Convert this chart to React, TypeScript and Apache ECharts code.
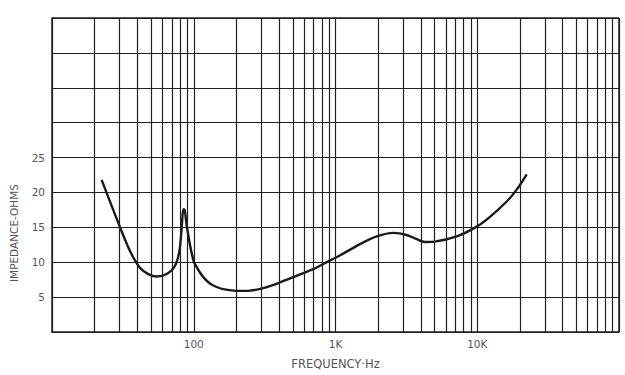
import React, { useEffect, useRef } from "react";
import * as echarts from "echarts";

const freqHz = [22.4, 30.2, 35.5, 41.7, 47.8, 54.8, 64.4, 73.8, 79.2, 82.2, 84.5, 86.3, 89, 94.1, 100, 105, 110, 118, 130, 145, 165, 200, 240, 309, 405, 530, 697, 820, 1080, 1489, 1953, 2561, 3177, 3737, 4280, 5000, 7161, 9910, 12300, 16140, 18980, 22330];
const impedanceOhms = [21.8, 15.0, 11.6, 9.2, 8.3, 7.95, 8.3, 9.5, 11.6, 14.9, 17.6, 17.5, 15.4, 12.5, 10.1, 9.3, 8.6, 7.75, 6.95, 6.45, 6.1, 5.9, 5.9, 6.3, 7.1, 8.05, 9.0, 9.75, 11.0, 12.6, 13.7, 14.2, 13.9, 13.3, 12.9, 12.95, 13.7, 15.1, 16.5, 18.7, 20.4, 22.6];
const minorFreqs = [20, 30, 40, 50, 60, 70, 80, 90, 200, 300, 400, 500, 600, 700, 800, 900, 2000, 3000, 4000, 5000, 6000, 7000, 8000, 9000, 20000, 30000, 40000, 50000, 60000, 70000, 80000, 90000];
const xTickLabels: Record<number, string> = { 100: "100", 1000: "1K", 10000: "10K" };
const yLabelled = [5, 10, 15, 20, 25];

export default function App() {
  const ref = useRef<HTMLDivElement>(null);
  useEffect(() => {
    if (!ref.current) return;
    const chart = echarts.init(ref.current, undefined, { renderer: "svg" });
    const font = "DejaVu Sans";
    chart.setOption({
      animation: false,
      backgroundColor: "#ffffff",
      grid: { left: 52, right: 6, top: 18, bottom: 40 },
      xAxis: {
        type: "log",
        logBase: 10,
        min: 10,
        max: 100000,
        name: "FREQUENCY·Hz",
        nameLocation: "middle",
        nameGap: 26,
        nameTextStyle: { color: "#555", fontSize: 11.5, fontFamily: font },
        axisLine: { show: true, lineStyle: { color: "#222", width: 1.5 } },
        axisTick: { show: false },
        axisLabel: {
          color: "#555",
          fontSize: 10.5,
          fontFamily: font,
          margin: 6,
          formatter: (v: number) => xTickLabels[Math.round(v)] || "",
        },
        splitLine: { show: true, lineStyle: { color: "#222", width: 1.2 } },
      },
      yAxis: {
        type: "value",
        min: 0,
        max: 45,
        interval: 5,
        axisLine: { show: true, lineStyle: { color: "#222", width: 1.5 } },
        axisTick: { show: false },
        axisLabel: {
          color: "#555",
          fontSize: 10.5,
          fontFamily: font,
          margin: 7,
          formatter: (v: number) => (yLabelled.includes(v) ? String(v) : ""),
        },
        splitLine: { show: true, lineStyle: { color: "#222", width: 1.2 } },
      },
      graphic: [
        {
          type: "text",
          x: 14,
          y: 233,
          rotation: Math.PI / 2,
          style: {
            text: "IMPEDANCE-OHMS",
            fill: "#555",
            font: `10.5px "${font}"`,
            align: "center",
            verticalAlign: "middle",
          },
        },
      ],
      series: [
        {
          type: "line",
          data: freqHz.map((f, i) => [f, impedanceOhms[i]]),
          smooth: 0.3,
          symbol: "none",
          lineStyle: { color: "#1a1a1a", width: 2.4 },
          markLine: {
            silent: true,
            symbol: "none",
            label: { show: false },
            lineStyle: { color: "#222", width: 1.2, type: "solid" },
            data: minorFreqs.map((f) => ({ xAxis: f })),
          },
        },
        {
          type: "line",
          data: [],
          markLine: {
            silent: true,
            symbol: "none",
            label: { show: false },
            lineStyle: { color: "#222", width: 1.5, type: "solid" },
            data: [{ xAxis: 100000 }, { yAxis: 45 }],
          },
        },
      ],
    });
    return () => chart.dispose();
  }, []);
  return (
    <div
      ref={ref}
      style={{ position: "absolute", left: 0, top: 0, width: 625, height: 375 }}
    />
  );
}
